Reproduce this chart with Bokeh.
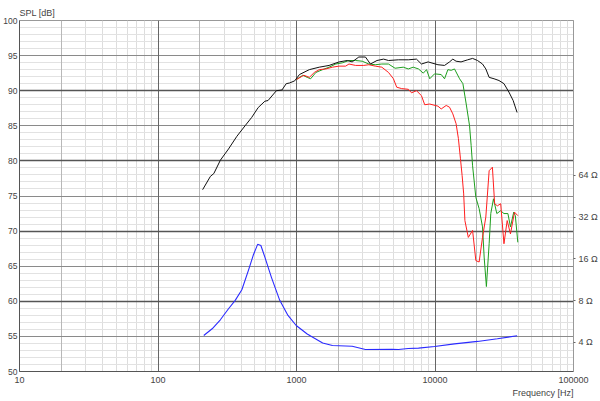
from bokeh.plotting import figure
from bokeh.models import (Range1d, LogScale, LogAxis, FixedTicker, Grid,
                          CustomJSTickFormatter, Title)
from bokeh.embed import file_html
from bokeh.resources import INLINE

# ---------------- data ----------------
x_major = [10, 100, 1000, 10000, 100000]
x_mid = [20, 200, 2000, 20000]
x_minor = [m * d for d in (10, 100, 1000, 10000) for m in (3, 4, 5, 6, 7, 8, 9)]
y_major10 = [50, 60, 70, 80, 90, 100]
y_major5 = [55, 65, 75, 85, 95]
y_minor = [v for v in range(50, 101) if v % 5 != 0]
imp_ticks = [4, 8, 16, 32, 64]

black_f = [210, 239, 253, 282, 323, 371, 425, 475, 529, 591, 623, 716, 785, 843, 891, 970,
           1050, 1238, 1460, 1720, 2030, 2325, 2523, 2818, 3146, 3418, 3811, 4254, 4617,
           5443, 6415, 7350, 7980, 8913, 10500, 11720, 12730, 13450, 14200, 15420, 17220,
           18680, 20280, 22030, 23280, 24600, 26700, 28970, 31470, 34170, 36660, 39150]
black_db = [75.9, 77.8, 78.2, 80.1, 81.7, 83.5, 85.0, 86.2, 87.6, 88.5, 88.6, 90.0, 90.1, 91.0, 91.1, 91.4,
            92.3, 93.0, 93.35, 93.6, 94.1, 94.3, 94.1, 94.8, 94.8, 93.8, 94.3, 94.5, 94.3,
            94.4, 94.4, 94.5, 93.8, 94.1, 93.7, 93.6, 94.1, 94.5, 94.2, 94.1, 94.4,
            94.6, 94.3, 93.8, 93.1, 91.9, 91.7, 91.45, 91.0, 89.8, 88.6, 86.9]

red_f = [1000, 1130, 1238, 1345, 1460, 1630, 1816, 2030, 2263, 2393, 2670, 3060, 3330, 3706,
         4130, 4617, 5010, 5290, 5745, 6415, 6770, 7350, 7980, 8430, 9160, 10500, 11090,
         12050, 12730, 13450, 14200, 14750, 15270, 15700, 16110, 16440, 17400, 18680, 19720,
         20830, 22030, 23280, 24600, 25970, 26960, 28200, 29800, 31470, 33200, 35060, 37500, 39630]
red_db = [91.6, 92.2, 91.9, 92.6, 93.0, 93.1, 93.35, 93.5, 93.5, 93.8, 93.6, 93.6, 93.7, 93.5,
          93.35, 92.6, 91.7, 90.5, 90.3, 90.2, 89.7, 90.0, 89.3, 88.0, 88.1, 87.8, 87.4,
          87.9, 87.65, 86.7, 85.3, 83.2, 80.3, 77.9, 75.3, 71.5, 69.1, 70.1, 65.8,
          65.6, 69.1, 72.0, 78.6, 79.1, 73.9, 73.6, 73.9, 68.2, 71.5, 69.6, 72.7, 72.2]

green_f = [1000, 1110, 1195, 1265, 1380, 1545, 1720, 1920, 2140, 2393, 2670, 2980, 3330, 3706,
           4130, 4617, 5150, 5900, 6415, 6960, 7600, 8230, 8690, 9160, 9930, 11090, 11720,
           12390, 13090, 13830, 15050, 15900, 16800, 17760, 18240, 18680, 19720, 20830, 22030,
           22640, 23500, 24600, 25280, 26440, 27940, 29800, 31470, 33600, 35060, 37020, 38020, 39630]
green_db = [91.6, 92.2, 91.9, 91.7, 92.6, 93.0, 93.35, 93.8, 93.97, 94.3, 94.3, 94.2, 93.8, 93.7,
            93.8, 93.8, 93.2, 93.35, 93.1, 93.35, 93.1, 92.5, 93.0, 91.7, 92.4, 92.3, 91.7,
            93.0, 92.9, 93.1, 91.7, 91.0, 88.1, 85.0, 82.2, 79.3, 74.8, 73.2, 70.6,
            66.3, 62.1, 68.2, 72.5, 74.6, 72.5, 72.9, 72.5, 72.5, 70.6, 72.7, 72.2, 68.4]

blue_f = [214, 246, 282, 323, 361, 403, 449, 487, 524, 553, 591, 659, 757, 868, 995, 1195,
          1310, 1545, 1816, 2523, 3146, 4878, 5443, 6415, 7600, 9930, 13830, 20280, 28200, 39150]
blue_ohm = [4.49, 5.02, 5.83, 7.0, 8.05, 9.6, 13.2, 17.0, 20.4, 20.0, 16.5, 11.8, 8.05, 6.27, 5.3, 4.6,
            4.36, 3.97, 3.8, 3.76, 3.56, 3.57, 3.56, 3.62, 3.64, 3.74, 3.91, 4.07, 4.25, 4.47]

# ---------------- figure ----------------
FONT = "Liberation Sans"
p = figure(width=600, height=401, x_axis_type="log", x_range=(10, 100000), y_range=(50, 100),
           output_backend="svg", toolbar_location=None, title="SPL [dB]",
           min_border_left=17, min_border_right=24, min_border_top=20, min_border_bottom=30)
p.title.align = "left"
p.title.text_font = FONT
p.title.text_font_size = "9px"
p.title.text_font_style = "normal"
p.title.text_color = "#444444"
p.title.standoff = 5
p.outline_line_color = "#999999"
p.background_fill_color = "white"
p.border_fill_color = "white"

p.xgrid.grid_line_color = None
p.ygrid.grid_line_color = None

def add_grid(dim, ticks, color, width=1.0):
    p.add_layout(Grid(dimension=dim, ticker=FixedTicker(ticks=ticks),
                      grid_line_color=color, grid_line_width=width))

add_grid(0, x_minor, "#dddddd")
add_grid(1, y_minor, "#e2e2e2")
add_grid(0, x_mid, "#b8b8b8")
add_grid(1, y_major5, "#8a8a8a")
add_grid(0, x_major, "#666666")
add_grid(1, y_major10, "#555555", 1.3)

# x axis
xa = p.xaxis[0]
xa.ticker = FixedTicker(ticks=x_major)
xa.formatter = CustomJSTickFormatter(code="return tick.toFixed(0);")
xa.major_tick_out = 0
xa.major_tick_in = 0
xa.minor_tick_out = 0
xa.minor_tick_in = 0
xa.major_label_standoff = 5
xa.major_label_text_font = FONT
xa.major_label_text_font_size = "9px"
xa.major_label_text_color = "#444444"
xa.axis_line_color = "#555555"

# left axis
ya = p.yaxis[0]
ya.ticker = FixedTicker(ticks=y_major10 + y_major5)
ya.major_tick_out = 0
ya.major_tick_in = 0
ya.minor_tick_out = 0
ya.minor_tick_in = 0
ya.major_label_standoff = 2
ya.major_label_text_font = FONT
ya.major_label_text_font_size = "8.5px"
ya.major_label_text_color = "#444444"
ya.axis_line_color = "#555555"

# right impedance axis (log)
p.extra_y_ranges = {"imp": Range1d(2.47, 839)}
p.extra_y_scales = {"imp": LogScale()}
ra = LogAxis(y_range_name="imp", ticker=FixedTicker(ticks=imp_ticks),
             formatter=CustomJSTickFormatter(code="return tick.toFixed(0) + ' \u03a9';"))
ra.major_tick_out = 2
ra.major_tick_in = 0
ra.minor_tick_out = 0
ra.minor_tick_in = 0
ra.major_tick_line_color = "#666666"
ra.major_label_standoff = 3
ra.major_label_text_font = FONT
ra.major_label_text_font_size = "9px"
ra.major_label_text_color = "#444444"
ra.axis_line_color = "#999999"
p.add_layout(ra, "right")

p.add_layout(Title(text="Frequency [Hz]", align="right", text_font=FONT, text_font_size="9px",
                   text_font_style="normal", text_color="#444444", standoff=0), "below")

# ---------------- curves ----------------
p.line(blue_f, blue_ohm, line_color="#2b2bff", line_width=1.1, y_range_name="imp")
p.line(green_f, green_db, line_color="#1e9e1e", line_width=1.0)
p.line(red_f, red_db, line_color="#ff1f1f", line_width=1.0)
p.line(black_f, black_db, line_color="#111111", line_width=1.0)

open("out.html", "w").write(file_html(p, INLINE))
